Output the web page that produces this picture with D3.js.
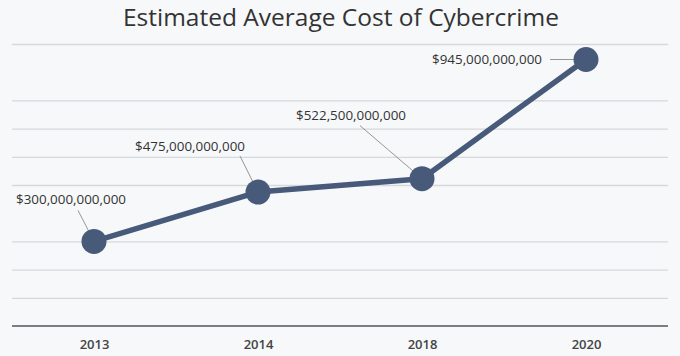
<!DOCTYPE html>
<html>
<head>
<meta charset="utf-8">
<script src="https://cdn.jsdelivr.net/npm/d3@7"></script>
<style>
  html, body { margin: 0; padding: 0; background: #f7f8fa; }
  svg { display: block; }
</style>
</head>
<body>
<svg id="chart" width="680" height="356"></svg>
<script>
// ---- data ----
const title = "Estimated Average Cost of Cybercrime";
const categories = ["2013", "2014", "2018", "2020"];
const values = [300000000000, 475000000000, 522500000000, 945000000000];
const valueLabels = ["$300,000,000,000", "$475,000,000,000", "$522,500,000,000", "$945,000,000,000"];
const gridValues = [100e9, 200e9, 300e9, 500e9, 600e9, 700e9, 800e9, 1000e9];

// ---- layout (not data) ----
const plot = { left: 12, right: 668, top: 44, bottom: 326 };
const labelOffsets = [ [-23, -42], [-68, -46], [-71, -63], [-99, 0] ]; // label centre relative to point
const leaderStart = [ [-16, -31], [-18, -36], [-62, -53], [-36, 0] ];
const R = 12.5;

const svg = d3.select("#chart");

const x = d3.scalePoint().domain(categories).range([plot.left, plot.right]).padding(0.5);
const y = d3.scaleLinear().domain([0, 1000e9]).range([plot.bottom, plot.top]);

// title
svg.append("text")
  .attr("x", 341).attr("y", 26)
  .attr("text-anchor", "middle")
  .attr("font-family", "'Open Sans', sans-serif")
  .attr("font-size", 24.5)
  .attr("font-weight", 500)
  .attr("fill", "#333")
  .text(title);

// grid lines via axis
const grid = d3.axisLeft(y).tickValues(gridValues).tickSize(-(plot.right - plot.left)).tickFormat("");
svg.append("g")
  .attr("transform", `translate(${plot.left},0)`)
  .call(grid)
  .call(g => g.select(".domain").remove())
  .call(g => g.selectAll("line").attr("stroke", "#d6d8db").attr("stroke-width", 1.3));

// x axis
const xAxis = d3.axisBottom(x).tickSize(0).tickPadding(14);
svg.append("g")
  .attr("transform", `translate(0,${plot.bottom})`)
  .call(xAxis)
  .call(g => g.select(".domain")
      .attr("d", `M${plot.left},0H${plot.right}`)
      .attr("stroke", "#7b7d80").attr("stroke-width", 2))
  .call(g => g.selectAll("text")
      .attr("font-family", "'Open Sans', sans-serif")
      .attr("font-size", 13)
      .attr("font-weight", 600)
      .attr("fill", "#444"));

const pts = categories.map((c, i) => ({ c, v: values[i], label: valueLabels[i], i }));

// leader lines
svg.append("g").selectAll("line").data(pts).join("line")
  .attr("x1", d => x(d.c) + leaderStart[d.i][0])
  .attr("y1", d => y(d.v) + leaderStart[d.i][1])
  .attr("x2", d => x(d.c))
  .attr("y2", d => y(d.v))
  .attr("stroke", "#8a8a8a")
  .attr("stroke-width", 0.9);

// line
svg.append("path")
  .datum(pts)
  .attr("fill", "none")
  .attr("stroke", "#485a7a")
  .attr("stroke-width", 5.5)
  .attr("stroke-linejoin", "round")
  .attr("d", d3.line().x(d => x(d.c)).y(d => y(d.v)));

// points
svg.append("g").selectAll("circle").data(pts).join("circle")
  .attr("cx", d => x(d.c))
  .attr("cy", d => y(d.v))
  .attr("r", R)
  .attr("fill", "#485a7a");

// value labels
svg.append("g").selectAll("text").data(pts).join("text")
  .attr("x", d => x(d.c) + labelOffsets[d.i][0])
  .attr("y", d => y(d.v) + labelOffsets[d.i][1])
  .attr("dy", "0.35em")
  .attr("text-anchor", "middle")
  .attr("font-family", "'Open Sans', sans-serif")
  .attr("font-size", 13.4)
  .attr("fill", "#333")
  .text(d => d.label);
</script>
</body>
</html>
